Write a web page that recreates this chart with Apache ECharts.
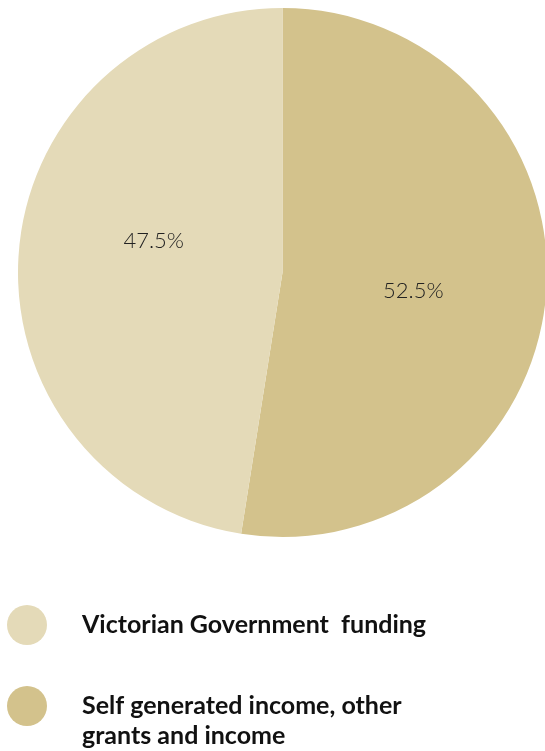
<!DOCTYPE html>
<html>
<head>
<meta charset="utf-8">
<script src="https://cdn.jsdelivr.net/npm/echarts@6/dist/echarts.min.js"></script>
<style>
  html, body { margin: 0; padding: 0; background: #fff; }
  #chart { width: 545px; height: 751px; }
</style>
</head>
<body>
<div id="chart"></div>
<script>
// funding sources
const names = ["Self generated income, other\ngrants and income", "Victorian Government  funding"];
const shares = [52.5, 47.5];
const colors = ["#D3C28C", "#E4DAB8"];

const chart = echarts.init(document.getElementById("chart"));

const legendText = {
  fontFamily: "Lato",
  fontWeight: "bold",
  fontSize: 25,
  color: "#111",
  lineHeight: 30,
  padding: [0, 0, 0, 30]
};

chart.setOption({
  animation: false,
  legend: [
    {
      left: 7,
      top: 605,
      padding: 0,
      icon: "circle",
      itemWidth: 40,
      itemHeight: 40,
      textStyle: legendText,
      data: [names[1]]
    },
    {
      left: 7,
      top: 661,
      padding: 0,
      icon: "circle",
      itemWidth: 40,
      itemHeight: 40,
      textStyle: legendText,
      // empty first line keeps the first text line level with the dot
      formatter: (n) => "\n" + n,
      data: [names[0]]
    }
  ],
  series: [
    {
      type: "pie",
      center: [282.5, 272.5],
      radius: 264.5,
      startAngle: 90,
      clockwise: true,
      silent: true,
      label: {
        position: "inner",
        formatter: "{c}%",
        fontFamily: "Lato",
        fontWeight: 300,
        fontSize: 22,
        color: "#222"
      },
      labelLine: { show: false },
      data: names.map((n, i) => ({
        name: n,
        value: shares[i],
        itemStyle: { color: colors[i] },
        label: { offset: i === 0 ? [-4, 8] : [6, -21] }
      }))
    }
  ]
});
</script>
</body>
</html>
